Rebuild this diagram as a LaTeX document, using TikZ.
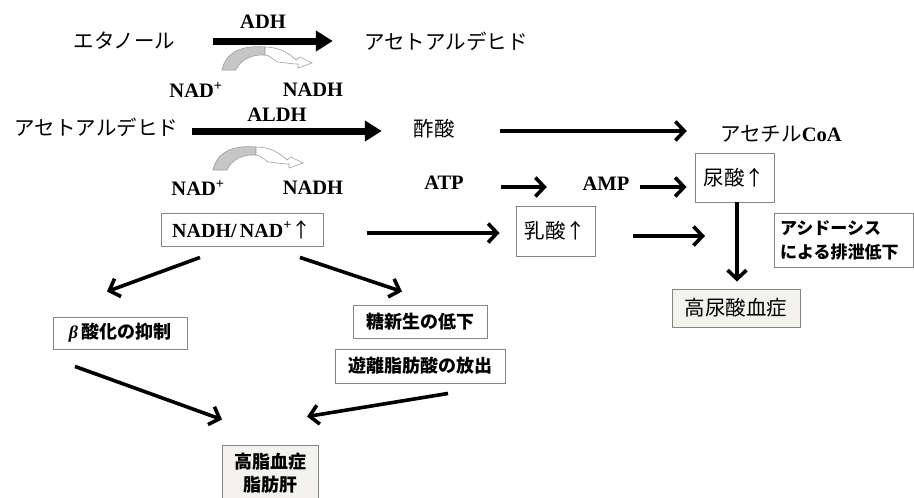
\documentclass[tikz,border=0pt]{standalone}
\usepackage{fontspec}
\setmainfont{Liberation Serif}
\newfontfamily\jp{Noto Sans CJK JP}
\usetikzlibrary{arrows.meta}
\definecolor{boxline}{HTML}{858585}
\definecolor{beige}{HTML}{F3F2EC}
\begin{document}
\begin{tikzpicture}[x=1pt,y=-1pt,
  lat/.style={font=\fontsize{20.5}{22}\selectfont\bfseries, inner sep=0pt},
  jpm/.style={font=\jp\fontsize{20.5}{23}\selectfont, inner sep=0pt, minimum height=20pt},
  box/.style={draw=boxline, line width=0.9pt, inner sep=0pt, align=center},
  jpbox/.style={box, font=\jp\bfseries\fontsize{18}{23}\selectfont},
  thk/.style={line width=7pt, -{Triangle[length=17pt,width=20pt]}},
  thn/.style={line width=3.6pt, -{Straight Barb[length=9pt,width=19pt]}},
  cycarrow/.pic={
    \filldraw[fill=gray!45, draw=gray!75, line width=0.6pt]
      (0,0) .. controls (4,-20) and (24,-25) .. (43,-23) -- (43,-15)
      .. controls (30,-16) and (18,-10) .. (14,0) -- cycle;
    \filldraw[fill=white, draw=gray!75, line width=0.6pt]
      (43,-23) .. controls (58,-23) and (68,-16) .. (74,-10) -- (78,-13)
      -- (90,-7) -- (76,-2) -- (76,-6)
      .. controls (68,-6) and (60,-8) .. (55,-8)
      .. controls (51,-11) and (47,-15) .. (43,-15) -- cycle;
  }
]
\useasboundingbox (0,0) rectangle (914,498);
\fill[white] (0,0) rectangle (914,498);

% top reaction
\node[jpm, minimum width=105pt] (etoh) at (124.5,41) {エタノール};
\node[jpm, minimum width=170pt] (acald1) at (446,41) {アセトアルデヒド};
\node[lat] (adh) at (263,22) {ADH};
\draw[thk] ([xshift=36]etoh.east) -- ([xshift=-28]acald1.west);
\pic at (222,70) {cycarrow};
\node[lat] (nadp1) at (196,90) {NAD\textsuperscript{+}};
\node[lat] (nadh1) at (313,90) {NADH};

% second reaction
\node[jpm, minimum width=173pt] (acald2) at (96.5,127) {アセトアルデヒド};
\node[lat] (aldh) at (277,115) {ALDH};
\node[jpm, minimum width=42pt] (acetate) at (434,129) {酢酸};
\draw[thk] ([shift={(9,4)}]acald2.east) -- ([shift={(-31,2)}]acetate.west);
\node[jpm, minimum width=128pt] (acoa) at (781,134) {アセチル{\rmfamily\bfseries CoA}};
\draw[thn] ([shift={(45,2)}]acetate.east) -- ([shift={(-30,-3)}]acoa.west);
\pic at (213,170) {cycarrow};
\node[lat] (nadp2) at (198,188) {NAD\textsuperscript{+}};
\node[lat] (nadh2) at (313,188) {NADH};

% ATP / AMP
\node[lat, minimum width=38pt] (atp) at (444,183) {ATP};
\node[lat, minimum width=48pt] (amp) at (606,184) {AMP};
\node[box, font=\jp\fontsize{20.5}{23}\selectfont, minimum width=79pt, minimum height=49pt] (uric) at (734.5,177.5) {尿酸↑};
\draw[thn] ([shift={(37,4)}]atp.east) -- ([shift={(-35,3)}]amp.west);
\draw[thn] ([shift={(10,3)}]amp.east) -- ([shift={(-8,9.5)}]uric.west);

% NADH/NAD box and lactate
\node[box, font=\fontsize{20}{22}\selectfont\bfseries, minimum width=162pt, minimum height=33pt] (nadbox) at (242,229.5) {NADH/\,NAD\textsuperscript{+}{\jp\mdseries ↑}};
\node[box, font=\jp\fontsize{20.5}{23}\selectfont, minimum width=79pt, minimum height=50pt] (lactic) at (555.5,231) {乳酸↑};
\draw[thn] ([shift={(44,3.5)}]nadbox.east) -- ([shift={(-16,2)}]lactic.west);
\coordinate (lacend) at (705,236);
\draw[thn] ([shift={(38,5)}]lactic.east) -- (lacend);

% acidosis and hyperuricemia
\node[jpbox, font=\jp\bfseries\fontsize{17}{24}\selectfont, align=left, text width=127pt, minimum width=139pt, minimum height=54pt] (acid) at (843.5,240) {アシドーシス\\による排泄低下};
\node[box, fill=beige, font=\jp\fontsize{20.5}{23}\selectfont, minimum width=128pt, minimum height=38pt] (hyper) at (736,308) {高尿酸血症};
\draw[thn] ([xshift=2.5]uric.south) -- ([shift={(1,-7)}]hyper.north);

% lower part
\node[jpbox, minimum width=134pt, minimum height=32pt] (beta) at (120,333) {{\rmfamily\bfseries\itshape β}\,酸化の抑制};
\node[jpbox, minimum width=134pt, minimum height=33pt] (gluco) at (420,321.5) {糖新生の低下};
\node[jpbox, minimum width=170pt, minimum height=34pt] (ffa) at (420,366) {遊離脂肪酸の放出};
\node[jpbox, fill=beige, minimum width=96pt, minimum height=56pt] (lipid) at (270,473) {高脂血症\\脂肪肝};

\draw[thn] ([shift={(-42,11)}]nadbox.south) -- ([shift={(-13,-25)}]beta.north);
\draw[thn] ([shift={(58,11)}]nadbox.south) -- ([shift={(-18,-13)}]gluco.north);
\draw[thn] ([shift={(-45,17)}]beta.south) -- ([shift={(-48,-25)}]lipid.north);
\draw[thn] ([shift={(28,10)}]ffa.south) -- ([shift={(37,-28)}]lipid.north);
\end{tikzpicture}
\end{document}
